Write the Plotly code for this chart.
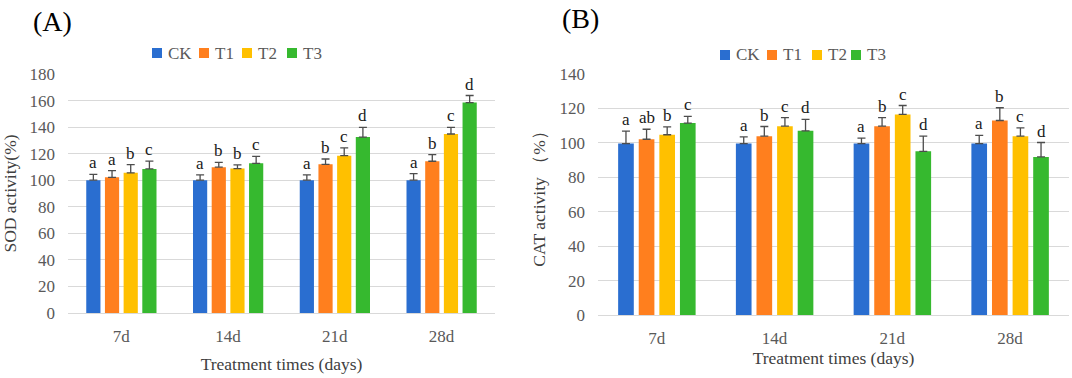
import plotly.graph_objects as go

# ---------------- data ----------------
categories = ["7d", "14d", "21d", "28d"]
series = ["CK", "T1", "T2", "T3"]
colors = ["#2A6ED0", "#FF7F1E", "#FFC000", "#36B92F"]

sod_ck = [100, 100, 100, 100]
sod_t1 = [102.2, 109.8, 112.0, 114.3]
sod_t2 = [105.6, 108.8, 118.5, 134.8]
sod_t3 = [108.5, 112.7, 132.5, 158.5]
sod_err_ck = [4.4, 4.0, 4.0, 5.0]
sod_err_t1 = [5.1, 3.6, 4.0, 5.0]
sod_err_t2 = [6.1, 2.7, 5.8, 5.0]
sod_err_t3 = [5.9, 5.3, 7.3, 5.3]
sod_letters_ck = ["a", "a", "a", "a"]
sod_letters_t1 = ["a", "b", "b", "b"]
sod_letters_t2 = ["b", "b", "c", "c"]
sod_letters_t3 = ["c", "c", "d", "d"]

cat_ck = [99.6, 99.6, 99.6, 99.6]
cat_t1 = [102.1, 103.9, 109.7, 113.0]
cat_t2 = [104.7, 109.7, 116.5, 103.9]
cat_t3 = [111.5, 107.0, 95.1, 91.8]
cat_err_ck = [7.2, 3.9, 3.1, 4.7]
cat_err_t1 = [5.8, 5.6, 4.9, 7.4]
cat_err_t2 = [4.6, 4.9, 5.2, 4.8]
cat_err_t3 = [3.9, 6.6, 8.8, 8.4]
cat_letters_ck = ["a", "a", "a", "a"]
cat_letters_t1 = ["ab", "b", "b", "b"]
cat_letters_t2 = ["b", "c", "c", "c"]
cat_letters_t3 = ["c", "d", "d", "d"]

sod_vals = [sod_ck, sod_t1, sod_t2, sod_t3]
sod_errs = [sod_err_ck, sod_err_t1, sod_err_t2, sod_err_t3]
sod_lets = [sod_letters_ck, sod_letters_t1, sod_letters_t2, sod_letters_t3]
cat_vals = [cat_ck, cat_t1, cat_t2, cat_t3]
cat_errs = [cat_err_ck, cat_err_t1, cat_err_t2, cat_err_t3]
cat_lets = [cat_letters_ck, cat_letters_t1, cat_letters_t2, cat_letters_t3]

# ---------------- style ----------------
W, H = 1072, 378
FONT = "Liberation Serif, Times New Roman, serif"
PITCH = 0.175
BARW = 0.133
GRID = "#D9D9D9"
TICKC = "#595959"
TITLEC = "#404040"

fig = go.Figure()
annotations = []
shapes = []

panels = [
    ("x", "y", sod_vals, sod_errs, sod_lets),
    ("x2", "y2", cat_vals, cat_errs, cat_lets),
]
for xa, ya, vals, errs, lets in panels:
    for j, name in enumerate(series):
        xs = [i + (j - 1.5) * PITCH for i in range(len(categories))]
        fig.add_trace(go.Bar(
            x=xs, y=vals[j], width=BARW, name=name,
            marker=dict(color=colors[j], line=dict(width=0)),
            error_y=dict(type="data", array=errs[j], symmetric=False,
                         arrayminus=[0] * len(errs[j]),
                         color="#4D4D4D", thickness=1.3, width=4),
            xaxis=xa, yaxis=ya, showlegend=False,
        ))
        for i in range(len(categories)):
            annotations.append(dict(
                x=xs[i], y=vals[j][i] + errs[j][i], xref=xa, yref=ya,
                text=lets[j][i], showarrow=False, yanchor="bottom",
                yshift=0, font=dict(family=FONT, size=17, color="#1A1A1A"),
            ))

# legend drawn as coloured squares + text labels (pixel layout of the reference)
legend_specs = [
    ([152, 199, 242, 287], 53),
    ([720, 767, 812, 851], 55),
]
for lefts, yc in legend_specs:
    for left, c, n in zip(lefts, colors, series):
        shapes.append(dict(type="rect", xref="paper", yref="paper",
                           x0=left / W, x1=(left + 10) / W,
                           y0=1 - (yc + 5) / H, y1=1 - (yc - 5) / H,
                           fillcolor=c, line=dict(width=0)))
        annotations.append(dict(x=(left + 14) / W, y=1 - yc / H, xref="paper",
                                yref="paper", text=n, showarrow=False,
                                xanchor="left", yanchor="middle",
                                font=dict(family=FONT, size=17, color=TICKC)))

annotations.append(dict(x=31 / W, y=1 - 21 / H, xref="paper", yref="paper",
                        text="(A)", showarrow=False, xanchor="left", yanchor="middle",
                        font=dict(family=FONT, size=28, color="#000000")))
annotations.append(dict(x=560 / W, y=1 - 18 / H, xref="paper", yref="paper",
                        text="(B)", showarrow=False, xanchor="left", yanchor="middle",
                        font=dict(family=FONT, size=28, color="#000000")))


def xaxis_cfg(domain, anchor, standoff):
    return dict(
        domain=domain, anchor=anchor, automargin=False,
        tickmode="array", tickvals=list(range(len(categories))), ticktext=categories,
        range=[-0.5, len(categories) - 0.5], showgrid=False, zeroline=False,
        showline=False, ticks="", ticklabelstandoff=11,
        tickfont=dict(family=FONT, size=17, color=TICKC),
        title=dict(text="Treatment times (days)", standoff=standoff,
                   font=dict(family=FONT, size=17.5, color=TITLEC)),
    )


ycommon = dict(
    automargin=False,
    showgrid=True, gridcolor=GRID, gridwidth=1, zeroline=True, zerolinecolor=GRID,
    zerolinewidth=1, showline=False, ticks="", ticklabelstandoff=12, dtick=20,
    tickfont=dict(family=FONT, size=17, color=TICKC),
)

fig.update_layout(
    width=W, height=H, margin=dict(l=0, r=0, t=0, b=0),
    paper_bgcolor="white", plot_bgcolor="white",
    barmode="overlay", showlegend=False,
    xaxis=xaxis_cfg([68 / W, 495 / W], "y", 12),
    xaxis2=xaxis_cfg([598 / W, 1069 / W], "y2", 3),
    yaxis=dict(domain=[1 - 313 / H, 1 - 74 / H], anchor="x", range=[0, 180],
               title=dict(text="SOD activity(%)", standoff=9,
                          font=dict(family=FONT, size=17.5, color=TITLEC)),
               **ycommon),
    yaxis2=dict(domain=[1 - 315 / H, 1 - 74 / H], anchor="x2", range=[0, 140],
                title=dict(text="CAT activity （%）", standoff=9,
                           font=dict(family=FONT, size=17.5, color=TITLEC)),
                **ycommon),
    annotations=annotations,
    shapes=shapes,
)

fig.write_html("out.html", config={"displayModeBar": False},
               post_script="document.body.style.margin='0px';")
